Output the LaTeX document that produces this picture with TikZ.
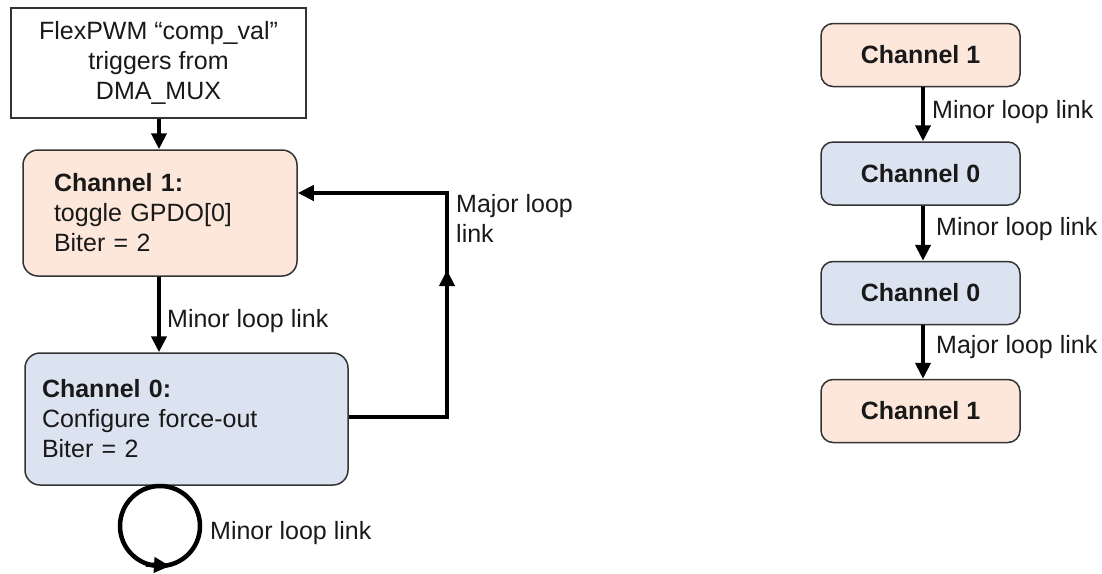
\documentclass[tikz,border=0pt]{standalone}
\usepackage{fontspec}
\setmainfont{Liberation Sans}
\usetikzlibrary{arrows.meta}
\definecolor{chOne}{HTML}{FCE7DA}
\definecolor{chZero}{HTML}{DAE3EF}
\definecolor{edge}{HTML}{333333}
\begin{document}
\begin{tikzpicture}[x=1pt,y=-1pt,
  every node/.style={font=\fontsize{25}{30}\selectfont, text=black!90},
  rbox/.style={draw=edge, line width=1.5pt, rounded corners=15pt, inner ysep=0pt},
  plainbox/.style={draw=edge, line width=1.5pt, inner sep=0pt, align=center},
  smallbox/.style={rbox, rounded corners=12pt, minimum width=199pt, minimum height=63pt, inner sep=0pt},
  tip/.style={-{Triangle[length=16pt,width=15pt]}},
  link/.style={line width=4.5pt, tip},
  lbl/.style={anchor=base west, inner sep=0pt, align=left}]
  \useasboundingbox (0,0) rectangle (1102,573);

  % left chain
  \node[plainbox, minimum width=295pt, minimum height=110pt] (trig) at (158.5,63)
    {FlexPWM “comp\_val”\\triggers from\\DMA\_MUX};
  \node[rbox, fill=chOne, minimum width=274pt, minimum height=126pt,
        text width=212pt, inner xsep=31pt, align=left] (c1) at (160,213)
    {\textbf{Channel 1:}\\toggle GPDO[0]\\Biter = 2};
  \node[rbox, fill=chZero, minimum width=323pt, minimum height=132pt,
        text width=289pt, inner xsep=17pt, align=left] (c0) at (186.5,419)
    {\textbf{Channel 0:}\\Configure force-out\\Biter = 2};

  \draw[link] (trig.south -| 159,0) -- (c1.north -| 159,0);
  \draw[link] (c1.south -| 159,0) -- (c0.north -| 159,0);
  \node[lbl] (l1) at (167,327) {Minor loop link};

  % major loop back to channel 1
  \coordinate (mjA) at (447,417);
  \coordinate (mjB) at (447,193);
  \draw[line width=4.5pt] (c0.east |- mjA) -- (mjA) -- (mjB)
    -- ([xshift=14pt]c1.east |- mjB);
  \draw[line width=4.5pt, tip] ([xshift=16pt]c1.east |- mjB) -- (c1.east |- mjB);
  \draw[line width=4.5pt, tip] (447,300) -- (447,270);
  \node[lbl] (l2) at (456,242) {Major loop\\link};

  % self loop on channel 0
  \coordinate (sc) at (160,526);
  \draw[line width=4.5pt] (sc) circle[radius=40pt];
  \draw[line width=4.5pt, tip] (146,564.5) -- (170,566);
  \node[lbl] (l3) at (210,539) {Minor loop link};

  % right chain
  \node[smallbox, fill=chOne] (r1) at (920.5,55) {\textbf{Channel 1}};
  \node[smallbox, fill=chZero] (r2) at (920.5,173.5) {\textbf{Channel 0}};
  \node[smallbox, fill=chZero] (r3) at (920.5,293) {\textbf{Channel 0}};
  \node[smallbox, fill=chOne] (r4) at (920.5,411) {\textbf{Channel 1}};

  \draw[link] (r1.south -| 923,0) -- (r2.north -| 923,0);
  \draw[link] (r2.south -| 923,0) -- (r3.north -| 923,0);
  \draw[link] (r3.south -| 923,0) -- (r4.north -| 923,0);
  \node[lbl] (l4) at (932,118) {Minor loop link};
  \node[lbl] (l5) at (936,235) {Minor loop link};
  \node[lbl] (l6) at (936,353) {Major loop link};
\end{tikzpicture}
\end{document}
